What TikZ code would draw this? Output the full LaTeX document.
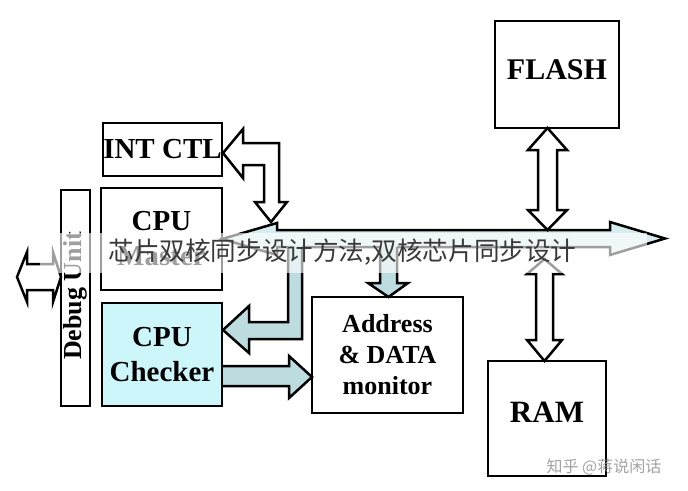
\documentclass[tikz,border=0pt]{standalone}
\usepackage{fontspec}
\setmainfont{Liberation Serif}
\newfontfamily\cjk{Noto Sans CJK SC}
\definecolor{cyanbox}{HTML}{CCF6FA}
\definecolor{arrowfill}{HTML}{BCDCDF}
\definecolor{busfill}{HTML}{D6ECEE}
\definecolor{captiongray}{HTML}{3A3A3A}
\begin{document}
\begin{tikzpicture}[x=1pt,y=-1pt,
  box/.style={draw, line width=2.5pt, inner sep=0pt, align=center,
    font=\bfseries\fontsize{29}{35}\selectfont},
  blk/.style={draw, line width=2.5pt, line join=miter},
  outline/.style={line width=2.5pt, line join=miter}]
\useasboundingbox (0,0) rectangle (688,490);
\fill[white] (0,0) rectangle (688,490);

% boxes
\node[box, minimum width=119pt, minimum height=53pt] (int) at (162.5,149.5) {INT CTL};
\node[box, minimum width=121pt, minimum height=102pt] (master) at (161.5,239) {CPU\\Master};
\node[box, minimum width=29pt, minimum height=216pt] (debug) at (75.5,298) {};
\node[rotate=90, font=\bfseries\fontsize{26}{30}\selectfont, inner sep=0pt] (debugtxt) at (75.5,296) {Debug Unit};
\node[box, fill=cyanbox, minimum width=120pt, minimum height=103pt] (checker) at (162,354.5) {CPU\\Checker};
\node[box, minimum width=151pt, minimum height=116pt, font=\bfseries\fontsize{26}{31}\selectfont] (mon) at (387.5,355) {Address\\\& DATA\\monitor};
\node[box, minimum width=124pt, minimum height=107pt] (flash) at (557,74.5) {};
\node[font=\bfseries\fontsize{30}{35}\selectfont, inner sep=0pt] (flashtxt) at (557,70) {FLASH};
\node[box, minimum width=118pt, minimum height=115pt] (ram) at (547,418.5) {};
\node[font=\bfseries\fontsize{31}{35}\selectfont, inner sep=0pt] (ramtxt) at (547,412) {RAM};

% system bus
\draw[blk, fill=busfill] (222,239) -- (277,223) -- (277,230) -- (610,230) -- (610,222)
  -- (665,238.5) -- (610,255) -- (610,247) -- (277,247) -- (277,255) -- cycle;

% bus -> monitor
\fill[arrowfill] (380,245) -- (380,283) -- (368,283) -- (388.5,297) -- (408,283) -- (397,283) -- (397,245) -- cycle;
\draw[outline] (380,247) -- (380,283) -- (368,283) -- (388.5,297) -- (408,283) -- (397,283) -- (397,247);

% bus -> checker
\fill[arrowfill] (302,245) -- (302,339) -- (249,339) -- (249,353) -- (223,330) -- (249,306) -- (249,322) -- (288,322) -- (288,245) -- cycle;
\draw[outline] (302,247) -- (302,339) -- (249,339) -- (249,353) -- (223,330) -- (249,306) -- (249,322) -- (288,322) -- (288,247);

% checker -> monitor
\fill[arrowfill] (223,366) -- (289,366) -- (289,356) -- (312,377) -- (289,398) -- (289,386) -- (223,386) -- cycle;
\draw[outline] (223,366) -- (289,366) -- (289,356) -- (312,377) -- (289,398) -- (289,386) -- (223,386);

% INT CTL <-> bus
\draw[blk, fill=white] (223,153) -- (243,129) -- (243,143) -- (279,143) -- (279,202) -- (287,202)
  -- (271,222) -- (255,202) -- (264,202) -- (264,165) -- (243,165) -- (243,178) -- cycle;

% FLASH <-> bus
\draw[blk, fill=white] (547.5,128) -- (567,150) -- (557,150) -- (557,210) -- (567,210) -- (547.5,230)
  -- (528,210) -- (538,210) -- (538,150) -- (528,150) -- cycle;

% RAM <-> bus
\draw[blk, fill=white] (544.5,259) -- (562,274) -- (553,274) -- (553,340) -- (562,340) -- (544.5,361)
  -- (527,340) -- (536,340) -- (536,274) -- (527,274) -- cycle;

% debug <-> outside
\draw[blk, fill=white] (17,277) -- (27,252) -- (27,264) -- (53,264) -- (53,252) -- (61,277)
  -- (53,302) -- (53,290) -- (27,290) -- (27,302) -- cycle;

% caption band (watermark)
\fill[white, opacity=0.62] (40,233) rectangle (647,273);
\node[font=\cjk\fontsize{25.6}{28}\selectfont, text=captiongray, inner sep=0pt] (caption) at (342.5,252) {芯片双核同步设计方法,双核芯片同步设计};
\node[font=\cjk\fontsize{16}{18}\selectfont, text=black!45, inner sep=0pt, opacity=0.8] (wm) at (604,467) {知乎 @蒋说闲话};
\end{tikzpicture}
\end{document}
